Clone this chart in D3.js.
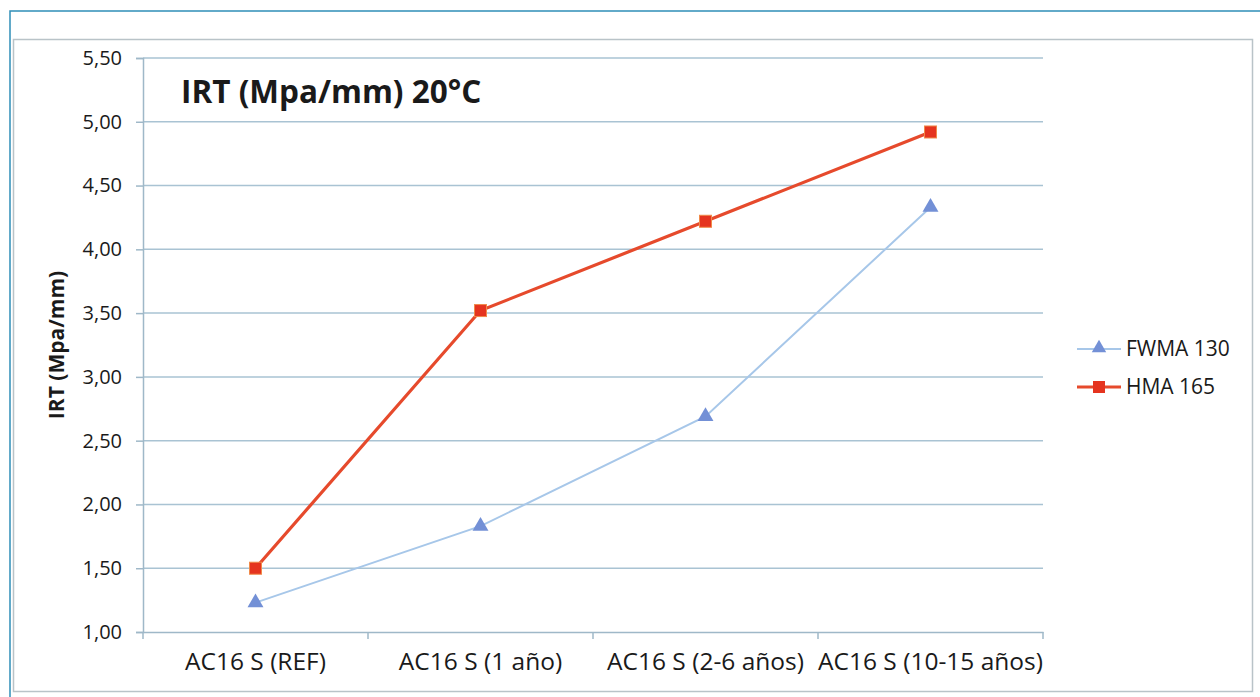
<!DOCTYPE html>
<html>
<head>
<meta charset="utf-8">
<script src="https://cdn.jsdelivr.net/npm/d3@7"></script>
<style>
	body { margin: 0; background: #fff; }
	svg { display: block; }
	text { font-family: "Open Sans", "Liberation Sans", sans-serif; fill: #1a1a1a; }
</style>
</head>
<body>
<div id="svg-container"></div>
<script>
// DATA
const categories = ["AC16 S (REF)", "AC16 S (1 año)", "AC16 S (2-6 años)", "AC16 S (10-15 años)"];
const seriesNames = ["FWMA 130", "HMA 165"];
const fwmaValues = [1.23, 1.83, 2.69, 4.33];
const hmaValues = [1.50, 3.52, 4.22, 4.92];
const yTicks = [1.00, 1.50, 2.00, 2.50, 3.00, 3.50, 4.00, 4.50, 5.00, 5.50];

function graphData() {
	// dimensions
	const w = 1260;
	const h = 697;
	const padLeft = 143;
	const padRight = 1043;
	const padTop = 58;
	const padBottom = 632;

	const svg = d3.select("#svg-container")
		.append("svg")
		.attr("width", w)
		.attr("height", h);

	// outer frame (blue line, top + left)
	svg.append("path")
		.attr("d", `M10,${h} L10,11 L${w},11`)
		.attr("fill", "none")
		.attr("stroke", "#2f8fb8")
		.attr("stroke-width", 1.5);

	// inner chart border
	svg.append("rect")
		.attr("x", 13.5).attr("y", 39.5)
		.attr("width", 1239).attr("height", 652)
		.attr("fill", "none")
		.attr("stroke", "#b9c3c8")
		.attr("stroke-width", 1.5);

	// scales
	const xScale = d3.scaleBand()
		.domain(categories)
		.range([padLeft, padRight]);
	const yScale = d3.scaleLinear()
		.domain([1, 5.5])
		.range([padBottom, padTop]);

	const fmt = d => d3.format(".2f")(d).replace(".", ",");

	// gridlines
	svg.append("g")
		.selectAll("line")
		.data(yTicks.filter(d => d > 1))
		.enter()
		.append("line")
		.attr("x1", padLeft)
		.attr("x2", padRight)
		.attr("y1", d => yScale(d))
		.attr("y2", d => yScale(d))
		.attr("stroke", "#a9c3d3")
		.attr("stroke-width", 1.5);

	// y axis
	const yAxis = svg.append("g")
		.attr("transform", `translate(${padLeft},0)`)
		.call(d3.axisLeft(yScale).tickValues(yTicks).tickFormat(fmt).tickSize(7).tickPadding(14));
	yAxis.select(".domain").attr("stroke", "#9fb8c8").attr("stroke-width", 1.5);
	yAxis.selectAll(".tick line").attr("stroke", "#9fb8c8").attr("stroke-width", 1.5);
	yAxis.selectAll(".tick text")
		.attr("font-size", 20)
		.attr("font-family", "\"Open Sans\", sans-serif")
		.attr("fill", "#262626");

	// x axis
	const xAxis = svg.append("g")
		.attr("transform", `translate(0,${padBottom})`)
		.call(d3.axisBottom(xScale).tickSize(0).tickPadding(21));
	xAxis.select(".domain").attr("stroke", "#9fb8c8").attr("stroke-width", 1.5);
	xAxis.selectAll(".tick text")
		.attr("font-size", 24.5)
		.attr("font-family", "\"Open Sans\", sans-serif")
		.attr("fill", "#1a1a1a");
	// category boundary ticks
	const bounds = categories.map(c => xScale(c)).concat([xScale.range()[1]]);
	xAxis.selectAll(".bound")
		.data(bounds)
		.enter()
		.append("line")
		.attr("x1", d => d).attr("x2", d => d)
		.attr("y1", 0).attr("y2", 7)
		.attr("stroke", "#9fb8c8")
		.attr("stroke-width", 1.5);

	const cx = d => xScale(d) + xScale.bandwidth() / 2;

	// lines
	const line = d3.line()
		.x((d, i) => cx(categories[i]))
		.y(d => yScale(d));

	svg.append("path")
		.datum(fwmaValues)
		.attr("d", line)
		.attr("fill", "none")
		.attr("stroke", "#a7c7e9")
		.attr("stroke-width", 2);

	svg.append("path")
		.datum(hmaValues)
		.attr("d", line)
		.attr("fill", "none")
		.attr("stroke", "#e64a2c")
		.attr("stroke-width", 3.2);

	// markers
	const tri = d3.symbol().type(d3.symbolTriangle).size(110);
	svg.append("g")
		.selectAll("path")
		.data(fwmaValues)
		.enter()
		.append("path")
		.attr("d", tri)
		.attr("transform", (d, i) => `translate(${cx(categories[i])},${yScale(d)})`)
		.attr("fill", "#7390d6");

	svg.append("g")
		.selectAll("rect")
		.data(hmaValues)
		.enter()
		.append("rect")
		.attr("x", (d, i) => cx(categories[i]) - 6)
		.attr("y", d => yScale(d) - 6)
		.attr("width", 12)
		.attr("height", 12)
		.attr("fill", "#e5341f")
		.attr("stroke", "#f08a4a")
		.attr("stroke-width", 1);

	// title inside plot
	svg.append("text")
		.attr("x", 181)
		.attr("y", 103)
		.attr("font-size", 31.5)
		.attr("font-weight", "bold")
		.attr("fill", "#111")
		.text("IRT (Mpa/mm) 20°C");

	// y axis label
	svg.append("text")
		.attr("transform", "translate(64,345) rotate(-90)")
		.attr("text-anchor", "middle")
		.attr("font-size", 21)
		.attr("font-weight", "bold")
		.attr("fill", "#111")
		.text("IRT (Mpa/mm)");

	// legend
	const legend = svg.append("g").attr("transform", "translate(1077,0)");
	const legendY = [349, 387];

	legend.append("line")
		.attr("x1", 0).attr("x2", 44)
		.attr("y1", legendY[0]).attr("y2", legendY[0])
		.attr("stroke", "#a7c7e9").attr("stroke-width", 2);
	legend.append("path")
		.attr("d", d3.symbol().type(d3.symbolTriangle).size(90))
		.attr("transform", `translate(22,${legendY[0] - 1})`)
		.attr("fill", "#7390d6");

	legend.append("line")
		.attr("x1", 0).attr("x2", 44)
		.attr("y1", legendY[1]).attr("y2", legendY[1])
		.attr("stroke", "#e64a2c").attr("stroke-width", 3);
	legend.append("rect")
		.attr("x", 16).attr("y", legendY[1] - 6)
		.attr("width", 12).attr("height", 12)
		.attr("fill", "#e5341f");

	legend.selectAll(".ltext")
		.data(seriesNames)
		.enter()
		.append("text")
		.attr("x", 49)
		.attr("y", (d, i) => legendY[i] + 7)
		.attr("font-size", 21)
		.attr("fill", "#222")
		.text(d => d);
}

document.addEventListener('DOMContentLoaded', () => {
	graphData();
});
</script>
</body>
</html>
